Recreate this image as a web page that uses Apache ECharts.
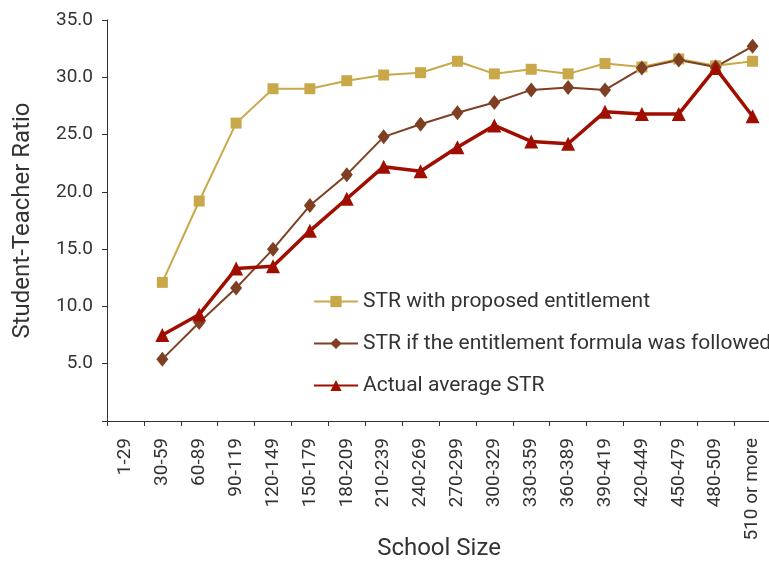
<!DOCTYPE html>
<html>
<head>
<meta charset="utf-8">
<script src="https://cdn.jsdelivr.net/npm/echarts@6/dist/echarts.min.js"></script>
<style>
html,body{margin:0;padding:0;background:#fff;}
#chart{width:769px;height:564px;}
</style>
</head>
<body>
<div id="chart"></div>
<script>
const categories = ['1-29','30-59','60-89','90-119','120-149','150-179','180-209','210-239','240-269','270-299','300-329','330-359','360-389','390-419','420-449','450-479','480-509','510 or more'];
const proposedSTR = [null, 12.1, 19.2, 26.0, 29.0, 29.0, 29.7, 30.2, 30.4, 31.4, 30.3, 30.7, 30.3, 31.2, 30.9, 31.6, 31.0, 31.4];
const formulaSTR = [null, 5.4, 8.6, 11.6, 15.0, 18.8, 21.5, 24.8, 25.9, 26.9, 27.8, 28.9, 29.1, 28.9, 30.8, 31.5, 30.9, 32.7];
const actualSTR = [null, 7.5, 9.3, 13.3, 13.5, 16.6, 19.4, 22.2, 21.8, 23.9, 25.8, 24.4, 24.2, 27.0, 26.8, 26.8, 30.8, 26.6];
const seriesNames = ['STR with proposed entitlement', 'STR if the entitlement formula was followed', 'Actual average STR'];
const yTicks = [0, 5, 10, 15, 20, 25, 30, 35];

const FONT = 'Roboto';
const TXT = '#333333';
const chart = echarts.init(document.getElementById('chart'), null, {renderer: 'canvas'});
chart.setOption({
  animation: false,
  backgroundColor: '#ffffff',
  textStyle: {fontFamily: FONT},
  grid: {left: 107, top: 20, width: 664, bottom: 143, outerBoundsMode: 'none'},
  legend: {
    orient: 'vertical',
    left: 308,
    top: 286,
    itemWidth: 44,
    itemHeight: 14,
    itemGap: 21,
    textStyle: {fontFamily: FONT, fontSize: 21, color: TXT},
    data: seriesNames
  },
  xAxis: {
    type: 'category',
    data: categories,
    boundaryGap: true,
    name: 'School Size',
    nameLocation: 'middle',
    nameGap: 116,
    nameMoveOverlap: false,
    nameTextStyle: {fontFamily: FONT, fontSize: 24, color: TXT},
    axisLine: {lineStyle: {color: '#333', width: 1}},
    axisTick: {show: true, alignWithLabel: false, length: 5, lineStyle: {color: '#333'}},
    axisLabel: {rotate: 90, interval: 0, margin: 17, fontFamily: FONT, fontSize: 19, color: TXT},
    splitLine: {show: false}
  },
  yAxis: {
    type: 'value',
    min: yTicks[0],
    max: yTicks[yTicks.length - 1],
    interval: 5,
    name: 'Student-Teacher Ratio',
    nameLocation: 'middle',
    nameGap: 72,
    nameMoveOverlap: false,
    nameTextStyle: {fontFamily: FONT, fontSize: 24, color: TXT},
    axisLine: {show: true, lineStyle: {color: '#333', width: 1}},
    axisTick: {show: true, length: 5, lineStyle: {color: '#333'}},
    axisLabel: {
      margin: 14, fontFamily: FONT, fontSize: 19, color: TXT,
      formatter: v => v === 0 ? '' : v.toFixed(1)
    },
    splitLine: {show: false}
  },
  series: [
    {
      name: seriesNames[0], type: 'line', data: proposedSTR,
      symbol: 'rect', symbolSize: 11,
      lineStyle: {color: '#C9A84A', width: 2},
      itemStyle: {color: '#C9A84A'}
    },
    {
      name: seriesNames[1], type: 'line', data: formulaSTR,
      symbol: 'diamond', symbolSize: [12, 15],
      lineStyle: {color: '#7F3F22', width: 2},
      itemStyle: {color: '#7F3F22'}
    },
    {
      name: seriesNames[2], type: 'line', data: actualSTR,
      symbol: 'triangle', symbolSize: 14,
      lineStyle: {color: '#A00E00', width: 3.5},
      itemStyle: {color: '#A00E00'}
    }
  ]
});
</script>
</body>
</html>
